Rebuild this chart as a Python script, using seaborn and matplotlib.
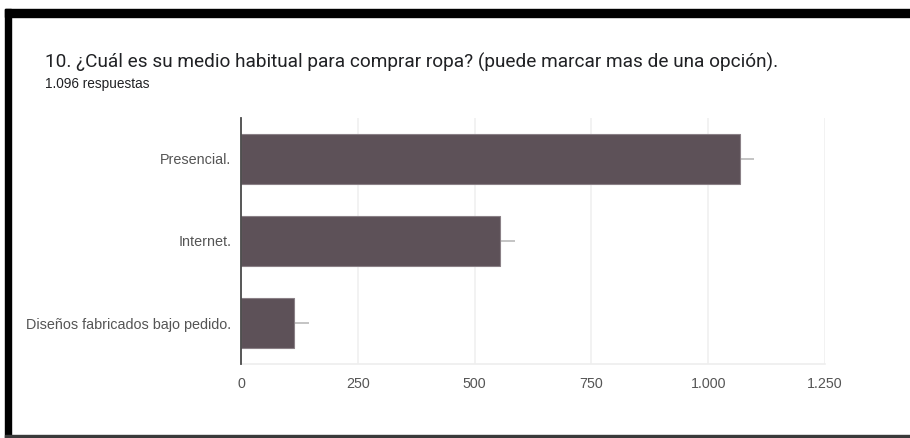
import matplotlib
matplotlib.use("Agg")
import matplotlib.pyplot as plt
from matplotlib.patches import Rectangle
import seaborn as sns
import pandas as pd

# Survey answers
categories = ["Presencial.", "Internet.", "Diseños fabricados bajo pedido."]
counts = [1067, 555, 114]
spread = [30, 31, 32]
xticks = [0, 250, 500, 750, 1000, 1250]
xtick_labels = ["0", "250", "500", "750", "1.000", "1.250"]

title = "10. ¿Cuál es su medio habitual para comprar ropa? (puede marcar mas de una opción)."
subtitle = "1.096 respuestas"

sns.set_theme(style="white")
plt.rcParams["font.family"] = ["Liberation Sans", "DejaVu Sans"]

W, H = 910, 438
fig = plt.figure(figsize=(W / 100, H / 100), dpi=100)
fig.patch.set_facecolor("white")

ax = fig.add_axes([241 / W, 1 - 364 / H, (825 - 241) / W, (364 - 118) / H])

df = pd.DataFrame({"medio": categories, "n": counts})
sns.barplot(data=df, y="medio", x="n", ax=ax, color="#5d5158", width=0.61,
            saturation=1, edgecolor="#8a8086", linewidth=0.8, zorder=3)

# short whisker to the right of each bar
for i, (v, s) in enumerate(zip(counts, spread)):
    ax.plot([v, v + s], [i, i], color="#c4c4c4", lw=1.4, zorder=2,
            solid_capstyle="butt")

ax.set_xlim(0, 1250)
ax.set_ylim(2.5, -0.5)
ax.set_xticks(xticks)
ax.set_xticklabels(xtick_labels)
ax.set_xlabel("")
ax.set_ylabel("")
ax.grid(axis="x", color="#f0f0f0", lw=1.2, zorder=0)
ax.set_axisbelow(True)

for side in ["top", "right"]:
    ax.spines[side].set_visible(False)
ax.spines["bottom"].set_color("#eeeeee")
ax.spines["bottom"].set_linewidth(1.2)
ax.spines["left"].set_color("#4a4a4a")
ax.spines["left"].set_linewidth(1.3)
ax.spines["left"].set_zorder(4)

ax.tick_params(axis="x", length=0, pad=9, labelsize=10.3, labelcolor="#555555")
ax.tick_params(axis="y", length=0, pad=7, labelsize=10.4, labelcolor="#555555")

fig.text(45 / W, 1 - 62 / H, title, fontsize=13.7, color="#202124",
         va="center", ha="left", family=["Roboto", "DejaVu Sans"])
fig.text(45 / W, 1 - 84 / H, subtitle, fontsize=9.8, color="#202124",
         va="center", ha="left")

# dark frame around the panel
fig.patches.append(Rectangle((5 / W, 1 - 17 / H), 1 - 5 / W, 8 / H,
                             transform=fig.transFigure, color="black", zorder=10))
fig.patches.append(Rectangle((5 / W, 0), 6 / W, 1 - 9 / H,
                             transform=fig.transFigure, color="black", zorder=10))
fig.patches.append(Rectangle((5 / W, 0), 1 - 5 / W, 3 / H,
                             transform=fig.transFigure, color="#3a3a3a", zorder=10))

fig.savefig("out.png", dpi=100, facecolor="white")
